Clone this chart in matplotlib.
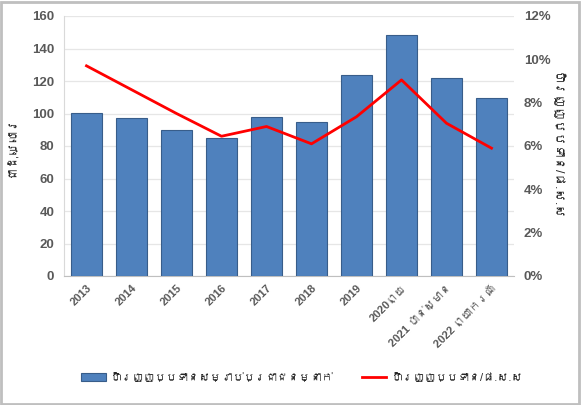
import numpy as np
import matplotlib
matplotlib.use('Agg')
import matplotlib.pyplot as plt
from matplotlib import font_manager
from matplotlib.ft2font import FT2Font

years = ['2013', '2014', '2015', '2016', '2017', '2018', '2019',
         '2020ព្យ', '2021 ប៉ាន់ស្មាន', '2022 ព្យាករណ៍']
per_capita = [100.6, 97.5, 90.0, 84.8, 98.0, 94.7, 124.0, 148.6, 122.0, 109.4]
ratio_gdp = [9.7, 8.6, 7.5, 6.45, 6.9, 6.1, 7.35, 9.05, 7.05, 5.9]

bar_label = 'ហិរញ្ញប្បទានសម្រាប់ប្រជាជនម្នាក់'
line_label = 'ហិរញ្ញប្បទាន/ផ.ស.ស'
left_title = 'ជាដុល្លារ'
right_title = 'ហិរញ្ញប្បទាន/ផ.ស.ស'

# look for any installed font that has khmer glyphs
khmer = None
for f in font_manager.fontManager.ttflist:
    try:
        if 0x1780 in FT2Font(f.fname).get_charmap():
            khmer = f.name
            break
    except Exception:
        pass
fams = ['Liberation Sans', 'DejaVu Sans']
if khmer:
    fams = ['Liberation Sans', khmer, 'DejaVu Sans']
plt.rcParams['font.family'] = fams

grey = '#595959'
fig = plt.figure(figsize=(5.81, 4.05), dpi=100)
ax = fig.add_axes([64/581, 1-276/405, 450/581, 260/405])
x = np.arange(len(years))
ax.bar(x, per_capita, width=0.67, color='#4f81bd', edgecolor='#385d8a',
       linewidth=0.8, label=bar_label, zorder=3)
ax.set_xlim(-0.5, len(years)-0.5)
ax.set_ylim(0, 160)
ax.set_yticks(range(0, 161, 20))
ax.grid(axis='y', color='#e6e6e6', linewidth=0.9, zorder=0)
for s in ['top', 'right']:
    ax.spines[s].set_visible(False)
ax.spines['left'].set_color('#d9d9d9')
ax.spines['bottom'].set_color('#bfbfbf')
ax.tick_params(length=0, colors=grey, labelsize=9.5, pad=7)
ax.tick_params(axis='x', pad=5)
ax.set_xticks(x)
ax.set_xticklabels(years, rotation=45, ha='right', rotation_mode='anchor',
                   fontsize=8, fontweight='bold')
for t in ax.get_yticklabels():
    t.set_fontweight('bold')
ax.set_ylabel(left_title, fontsize=9, color='#262626', labelpad=10)

ax2 = ax.twinx()
ax2.plot(x, ratio_gdp, color='#ff0000', linewidth=2, label=line_label, zorder=4)
ax2.set_ylim(0, 12)
ax2.set_yticks(range(0, 13, 2))
ax2.set_yticklabels([f'{v}%' for v in range(0, 13, 2)], fontweight='bold')
for s in ['top', 'right', 'left', 'bottom']:
    ax2.spines[s].set_visible(False)
ax2.tick_params(length=0, colors=grey, labelsize=9.5, pad=7)
ax2.set_ylabel(right_title, fontsize=9, color='#262626', rotation=270, labelpad=8)

h1, l1 = ax.get_legend_handles_labels()
h2, l2 = ax2.get_legend_handles_labels()
fig.legend(h1 + h2, l1 + l2, loc='center', bbox_to_anchor=(0.52, 1 - 378/405),
           ncol=2, frameon=False, fontsize=8, columnspacing=2.5,
           handlelength=2.2, handletextpad=0.5, labelcolor='#262626')

fig.patches.append(plt.Rectangle((0.002, 0.003), 0.994, 0.993, transform=fig.transFigure,
                                 fill=False, edgecolor='#bfbfbf', linewidth=2))
fig.savefig('out.png', dpi=100)
